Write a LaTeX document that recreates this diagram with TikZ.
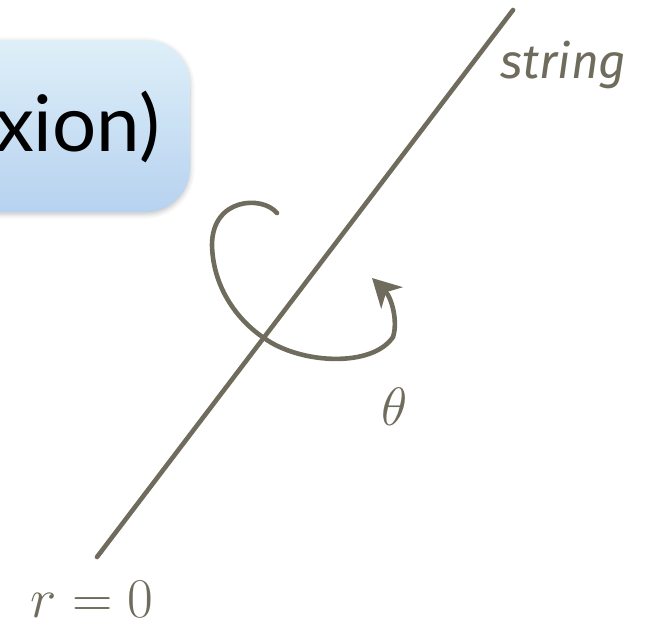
\RequirePackage{fix-cm}
\documentclass[tikz,border=0pt]{standalone}
\usepackage{fontspec}
\newfontfamily\boxfont{Lato}
\newfontfamily\handfont{Fira Sans}
\usetikzlibrary{arrows.meta,shadows.blur}
\definecolor{ink}{RGB}{112,108,93}
\definecolor{boxtop}{RGB}{222,239,248}
\definecolor{boxbot}{RGB}{183,210,240}
\tikzset{
  strline/.style={draw=ink,line width=4.6pt,line cap=round},
  lbl/.style={text=ink,inner sep=0pt},
}
\begin{document}
\begin{tikzpicture}[x=1pt,y=-1pt]
\useasboundingbox (0,0) rectangle (660,625);
\begin{scope}
\clip (0,0) rectangle (660,625);
\node[draw=none,rounded corners=44pt,minimum width=326pt,minimum height=172pt,
  top color=boxtop,bottom color=boxbot,
  blur shadow={shadow xshift=0pt,shadow yshift=-2pt,shadow blur radius=5pt,shadow opacity=25}]
  (box) at (27,126) {};
\end{scope}
\node[anchor=base east,inner sep=0pt,font=\boxfont\fontsize{78}{80}\selectfont] (title) at (160,151) {xion)};
\coordinate (bot) at (97,557);
\coordinate (top) at (513,10);
\draw[strline] (bot) -- (top);
\coordinate (s) at (277,213);
\coordinate (e) at (372,278);
\draw[draw=ink,line width=4.6pt,line cap=round,-{Stealth[length=28pt,width=30pt,inset=8pt]}]
  (s) .. controls (262,195) and (212,198) .. (212,245)
      .. controls (213,290) and (240,322) .. (264,338)
      .. controls (300,364) and (372,368) .. (393,337)
      .. controls (398,322) and (392,298) .. (e);
\node[lbl,font=\handfont\itshape\fontsize{48}{50}\selectfont,anchor=base west] (str) at (500,78) {string};
\node[lbl,font=\fontsize{54}{56}\selectfont] (theta) at (395,407) {$\theta$};
\node[lbl,font=\fontsize{56}{58}\selectfont] (r0) at (92,599) {$r=0$};
\end{tikzpicture}
\end{document}
